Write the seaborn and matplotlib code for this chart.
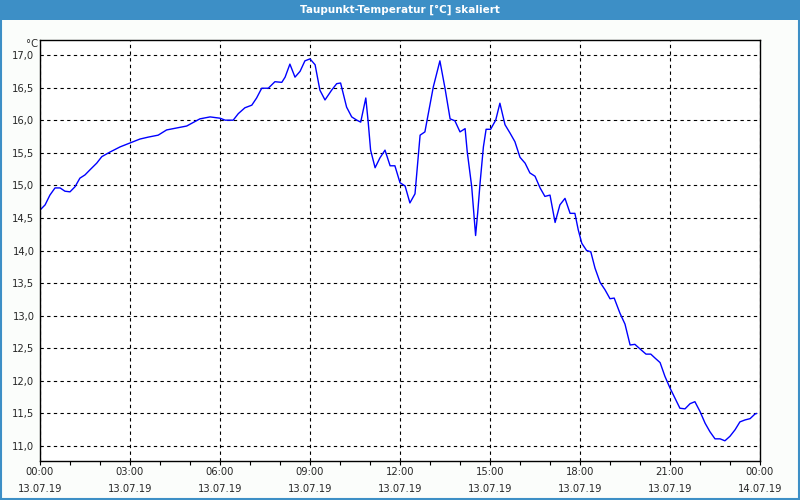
import matplotlib
matplotlib.use("Agg")
import matplotlib.pyplot as plt
from matplotlib.patches import Rectangle
import seaborn as sns
import pandas as pd

title = "Taupunkt-Temperatur [°C] skaliert"
unit_label = "°C"

hours = [0.0, 0.17, 0.33, 0.5, 0.67, 0.83, 1.0, 1.17, 1.33, 1.5, 1.67, 1.89, 2.06, 2.33, 2.67,
         3.0, 3.33, 3.61, 3.94, 4.22, 4.56, 4.89, 5.33, 5.67, 6.0, 6.17, 6.44, 6.61, 6.83, 7.06,
         7.22, 7.39, 7.61, 7.83, 8.06, 8.17, 8.33, 8.5, 8.67, 8.83, 9.0, 9.17, 9.33, 9.5, 9.72,
         9.89, 10.02, 10.22, 10.39, 10.56, 10.69, 10.86, 10.94, 11.02, 11.17, 11.33, 11.5, 11.67,
         11.83, 12.0, 12.17, 12.33, 12.5, 12.67, 12.83, 13.11, 13.33, 13.5, 13.67, 13.83, 14.0,
         14.17, 14.24, 14.39, 14.52, 14.59, 14.67, 14.78, 14.87, 15.02, 15.19, 15.33, 15.5, 15.67,
         15.83, 16.0, 16.17, 16.33, 16.5, 16.67, 16.83, 17.0, 17.17, 17.33, 17.5, 17.67, 17.83,
         17.94, 18.06, 18.22, 18.36, 18.5, 18.67, 18.83, 19.0, 19.14, 19.33, 19.5, 19.67, 19.83,
         20.0, 20.2, 20.36, 20.5, 20.67, 20.83, 21.0, 21.17, 21.33, 21.5, 21.67, 21.83, 22.0,
         22.17, 22.33, 22.5, 22.67, 22.83, 23.0, 23.17, 23.33, 23.5, 23.67, 23.83, 23.89]
dewpoint = [14.62, 14.70, 14.85, 14.96, 14.96, 14.91, 14.90, 14.98, 15.11, 15.16, 15.24, 15.34,
            15.44, 15.51, 15.59, 15.65, 15.71, 15.74, 15.77, 15.85, 15.88, 15.91, 16.02, 16.05,
            16.03, 16.00, 16.00, 16.10, 16.19, 16.23, 16.34, 16.49, 16.49, 16.59, 16.58, 16.66,
            16.86, 16.66, 16.75, 16.91, 16.94, 16.85, 16.46, 16.31, 16.46, 16.56, 16.57, 16.20,
            16.05, 16.00, 15.97, 16.34, 15.97, 15.54, 15.27, 15.42, 15.54, 15.30, 15.30, 15.04,
            14.99, 14.73, 14.87, 15.77, 15.82, 16.51, 16.91, 16.49, 16.02, 15.99, 15.82, 15.87,
            15.52, 14.98, 14.23, 14.58, 15.04, 15.59, 15.86, 15.86, 16.00, 16.26, 15.93, 15.80,
            15.67, 15.43, 15.34, 15.19, 15.14, 14.96, 14.83, 14.85, 14.43, 14.70, 14.80, 14.57,
            14.57, 14.32, 14.11, 14.00, 13.98, 13.73, 13.51, 13.40, 13.26, 13.27, 13.04, 12.87,
            12.55, 12.56, 12.49, 12.41, 12.41, 12.35, 12.28, 12.07, 11.89, 11.73, 11.58, 11.57,
            11.65, 11.68, 11.53, 11.35, 11.22, 11.11, 11.11, 11.08, 11.15, 11.25, 11.37, 11.40,
            11.42, 11.49, 11.50]

x_tick_hours = [0, 3, 6, 9, 12, 15, 18, 21, 24]
x_tick_labels = ["00:00\n13.07.19", "03:00\n13.07.19", "06:00\n13.07.19", "09:00\n13.07.19",
                 "12:00\n13.07.19", "15:00\n13.07.19", "18:00\n13.07.19", "21:00\n13.07.19",
                 "00:00\n14.07.19"]
y_ticks = [11.0, 11.5, 12.0, 12.5, 13.0, 13.5, 14.0, 14.5, 15.0, 15.5, 16.0, 16.5, 17.0]
y_tick_labels = ["11,0", "11,5", "12,0", "12,5", "13,0", "13,5", "14,0", "14,5", "15,0",
                 "15,5", "16,0", "16,5", "17,0"]

df = pd.DataFrame({"t": hours, "v": dewpoint})

sns.set_theme(style="white")
plt.rcParams["font.family"] = ["DejaVu Sans"]

bg = "#FBFDFB"
blue_bar = "#3D8FC6"

fig = plt.figure(figsize=(8, 5), dpi=100, facecolor=bg)
ax = fig.add_axes([40 / 800, 1 - 461 / 500, 720 / 800, 421 / 500])
ax.set_facecolor("white")

sns.lineplot(data=df, x="t", y="v", ax=ax, color="#0000FF", linewidth=1.0)

ax.set_xlim(0, 24)
ax.set_ylim(10.77, 17.23)
ax.set_xticks(x_tick_hours)
ax.set_xticklabels(x_tick_labels, fontsize=7.2, linespacing=1.9)
ax.set_xticks(list(range(25)), minor=True)
ax.set_yticks(y_ticks)
ax.set_yticklabels(y_tick_labels, fontsize=7.2)
ax.set_xlabel("")
ax.set_ylabel("")
ax.tick_params(axis="x", which="both", direction="out", length=3, width=0.8,
               color="black", pad=1, bottom=True)
ax.tick_params(axis="y", length=0, pad=4)
ax.grid(True, which="major", color="black", linestyle=(0, (3, 3)), linewidth=0.8)
for s in ax.spines.values():
    s.set_color("black")
    s.set_linewidth(1.0)

fig.text(38 / 800, 1 - 44 / 500, unit_label, fontsize=7.2, ha="right", va="center")

# title bar
fig.patches.append(Rectangle((0, 1 - 20 / 500), 1, 20 / 500, transform=fig.transFigure,
                             facecolor=blue_bar, edgecolor="none", zorder=0))
fig.text(0.5, 1 - 10 / 500, title, color="white", fontsize=7.5, ha="center", va="center",
         fontweight="bold")
# outer border
fig.patches.append(Rectangle((0.001, 0.002), 0.998, 0.997, transform=fig.transFigure,
                             facecolor="none", edgecolor=blue_bar, linewidth=1.5, zorder=5))

fig.savefig("out.png", dpi=100, facecolor=bg)
